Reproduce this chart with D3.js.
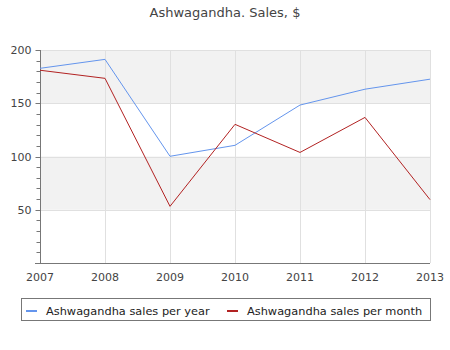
<!DOCTYPE html>
<html>
<head>
<meta charset="utf-8">
<script src="https://cdn.jsdelivr.net/npm/d3@7"></script>
<style>
  body { margin: 0; background: #fff; }
  text { font-family: "DejaVu Sans", sans-serif; }
</style>
</head>
<body>
<svg id="chart" width="450" height="350"></svg>
<script>
// chart data
const years = [2007, 2008, 2009, 2010, 2011, 2012, 2013];
const salesPerYear = [182.8, 191.2, 100.2, 110.5, 148.3, 163.2, 172.6];
const salesPerMonth = [181, 173.4, 53.2, 130.2, 103.8, 136.7, 59.5];
const seriesNames = ["Ashwagandha sales per year", "Ashwagandha sales per month"];
const seriesColors = ["#6495ed", "#b22222"];
const yTicks = [50, 100, 150, 200];

const svg = d3.select("#chart");
const plotLeft = 40, plotRight = 430, plotTop = 50, plotBottom = 263;

let x = d3.scaleLinear().domain([2007, 2013]).range([plotLeft, plotRight]);
let y = d3.scaleLinear().domain([0, 200]).range([plotBottom, plotTop]);

// title
svg.append("text")
    .attr("x", 225).attr("y", 17)
    .attr("text-anchor", "middle")
    .attr("font-size", 13)
    .attr("fill", "#444")
    .text("Ashwagandha. Sales, $");

// alternating bands
const bands = [[150, 200], [50, 100]];
svg.append("g").selectAll("rect").data(bands).enter().append("rect")
    .attr("x", plotLeft).attr("width", plotRight - plotLeft)
    .attr("y", d => y(d[1]))
    .attr("height", d => y(d[0]) - y(d[1]))
    .attr("fill", "#f2f2f2");

// grid lines
svg.append("g").selectAll("line").data(yTicks).enter().append("line")
    .attr("x1", plotLeft).attr("x2", plotRight)
    .attr("y1", d => Math.round(y(d)) + 0.5).attr("y2", d => Math.round(y(d)) + 0.5)
    .attr("stroke", "#e0e0e0");
svg.append("g").selectAll("line").data(years.slice(1)).enter().append("line")
    .attr("x1", d => Math.round(x(d)) + 0.5).attr("x2", d => Math.round(x(d)) + 0.5)
    .attr("y1", plotTop).attr("y2", plotBottom)
    .attr("stroke", "#e0e0e0");

// y axis with minor ticks
const yAxis = svg.append("g").attr("transform", `translate(${plotLeft + 0.5},0)`);
yAxis.append("line").attr("y1", plotTop).attr("y2", plotBottom + 0.5).attr("stroke", "#777");
yAxis.selectAll(".minor").data(d3.range(0, 201, 10)).enter().append("line")
    .attr("class", "minor")
    .attr("x1", d => d % 50 == 0 ? -5 : -4).attr("x2", 0)
    .attr("y1", d => Math.round(y(d)) + 0.5).attr("y2", d => Math.round(y(d)) + 0.5)
    .attr("stroke", "#777");
yAxis.selectAll("text").data(yTicks).enter().append("text")
    .attr("x", -9).attr("y", d => y(d) + 4)
    .attr("text-anchor", "end")
    .attr("font-size", 11)
    .attr("fill", "#444")
    .text(d => d);

// x axis
svg.append("line")
    .attr("x1", 35).attr("x2", plotRight)
    .attr("y1", plotBottom + 0.5).attr("y2", plotBottom + 0.5)
    .attr("stroke", "#777");
svg.append("g").selectAll("text").data(years).enter().append("text")
    .attr("x", d => x(d)).attr("y", 281)
    .attr("text-anchor", "middle")
    .attr("font-size", 11)
    .attr("fill", "#444")
    .text(d => d);

// lines
const line = d3.line().x((d, i) => x(years[i])).y(d => y(d));
[salesPerYear, salesPerMonth].forEach((s, i) => {
    svg.append("path")
        .attr("d", line(s))
        .attr("fill", "none")
        .attr("stroke", seriesColors[i])
        .attr("stroke-width", 1);
});

// legend
svg.append("rect")
    .attr("x", 21.5).attr("y", 298.5).attr("width", 409).attr("height", 22)
    .attr("fill", "none").attr("stroke", "#777");
const legendX = [26, 227];
seriesNames.forEach((n, i) => {
    svg.append("line")
        .attr("x1", legendX[i]).attr("x2", legendX[i] + 11)
        .attr("y1", 311).attr("y2", 311)
        .attr("stroke", seriesColors[i]).attr("stroke-width", 2);
    svg.append("text")
        .attr("x", legendX[i] + 20).attr("y", 314.5)
        .attr("font-size", 11.35)
        .attr("fill", "#222")
        .text(n);
});
</script>
</body>
</html>
